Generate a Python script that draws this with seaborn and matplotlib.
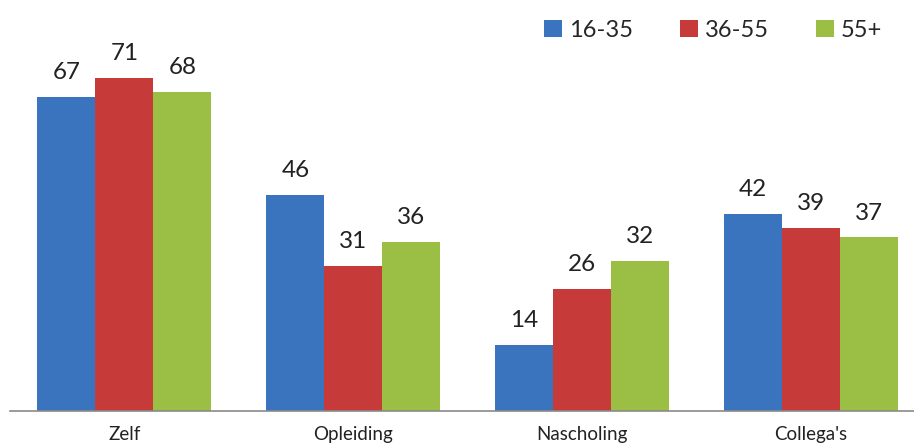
import matplotlib
matplotlib.use("Agg")
import matplotlib.pyplot as plt
from matplotlib.patches import Patch
import seaborn as sns
import pandas as pd

categories = ["Zelf", "Opleiding", "Nascholing", "Collega's"]
groups = ["16-35", "36-55", "55+"]
values_16_35 = [67, 46, 14, 42]
values_36_55 = [71, 31, 26, 39]
values_55plus = [68, 36, 32, 37]
colors = ["#3A74BF", "#C63A3A", "#9BBF45"]

df = pd.DataFrame({
    "categorie": categories * 3,
    "leeftijd": [g for g in groups for _ in categories],
    "waarde": values_16_35 + values_36_55 + values_55plus,
})

sns.set_theme(style="white")
plt.rcParams["font.family"] = ["Lato", "DejaVu Sans"]

fig = plt.figure(figsize=(9.14, 4.45), dpi=100)
ax = fig.add_axes([10 / 914, 34 / 445, 1 - 10 / 914, 411 / 445])

sns.barplot(data=df, x="categorie", y="waarde", hue="leeftijd",
            order=categories, hue_order=groups, palette=colors,
            width=0.76, gap=0, saturation=1, linewidth=0, ax=ax, legend=False)

for container in ax.containers:
    ax.bar_label(container, labels=[f"{v:.0f}" for v in container.datavalues],
                 padding=10, fontsize=17.5, color="#222222")

ax.set_xlim(-0.5, 3.45)
ax.set_ylim(0, 87.6)
ax.set_xlabel("")
ax.set_ylabel("")
ax.set_yticks([])
ax.tick_params(axis="x", length=0, labelsize=13.5, colors="#222222", pad=11)
for side in ["top", "right", "left"]:
    ax.spines[side].set_visible(False)
ax.spines["bottom"].set_color("#8a8a8a")
ax.spines["bottom"].set_linewidth(1.2)

handles = [Patch(facecolor=c, edgecolor="none", label=g) for c, g in zip(colors, groups)]
fig.legend(handles=handles, loc="upper left", bbox_to_anchor=(544 / 914, 1 - 20 / 445),
           ncol=3, frameon=False, fontsize=17, handlelength=0.75, handleheight=0.75,
           handletextpad=0.3, columnspacing=2.0, borderaxespad=0, borderpad=0)

fig.savefig("out.png", dpi=100)
